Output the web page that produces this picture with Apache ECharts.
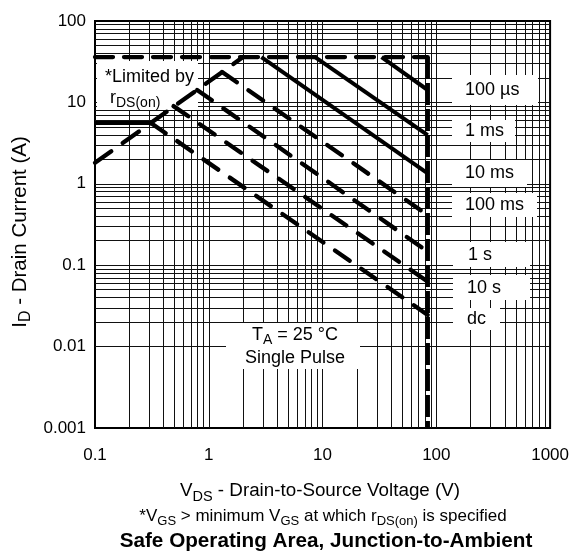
<!DOCTYPE html>
<html><head><meta charset="utf-8">
<script src="https://cdn.jsdelivr.net/npm/echarts@6/dist/echarts.min.js"></script>
<style>html,body{margin:0;padding:0;background:#fff}#c{width:572px;height:553px}</style>
</head><body><div id="c"></div>
<script>
const FONT = "'Liberation Sans', Arial, Helvetica, sans-serif";

// ---- axis ticks ----
const xTicks = [0.1, 1, 10, 100, 1000];
const xTickLabels = ['0.1', '1', '10', '100', '1000'];
const yTicks = [0.001, 0.01, 0.1, 1, 10, 100];
const yTickLabels = ['0.001', '0.01', '0.1', '1', '10', '100'];

// ---- SOA boundary data (V in volts, I in amps) ----
const rdsLimitV = [0.1, 2.0];   const rdsLimitI = [1.81, 36];
const idmLimitV = [0.1, 84];    const idmLimitI = [36, 36];
const bvdssV = [84, 84];        const bvdssI = [36, 0.001];
const idLimitV = [0.1, 0.31];   const idLimitI = [5.6, 5.6];
const us100V = [33, 84];        const us100I = [36, 14.2];
const ms1V = [8.6, 84];         const ms1I = [36, 3.96];
const ms10V = [2.9, 84];        const ms10I = [36, 1.34];
const ms100V = [1.31, 84];      const ms100I = [23.7, 0.413];
const s1V = [0.79, 84];         const s1I = [14.2, 0.147];
const s10V = [0.49, 84];        const s10I = [9.0, 0.063];
const dcV = [0.31, 84];         const dcI = [5.6, 0.0245];

const curveLabels = ['100 µs', '1 ms', '10 ms', '100 ms', '1 s', '10 s', 'dc'];

// ---- grid multiples ----
const gridMult = [2, 3, 4, 5, 6, 7, 8, 9, 10];
const xDecades = [0.1, 1, 10, 100];
const yDecades = [0.001, 0.01, 0.1, 1, 10];

const xGrid = [];
xDecades.forEach(d => gridMult.forEach(m => { const v = +(d * m).toPrecision(6); if (v < 1000) xGrid.push(v); }));
const yGrid = [];
yDecades.forEach(d => gridMult.forEach(m => { const v = +(d * m).toPrecision(6); if (v < 100) yGrid.push(v); }));

const chart = echarts.init(document.getElementById('c'), null, {renderer: 'canvas'});

function pts(V, I) { return V.map((v, i) => [v, I[i]]); }
function curve(name, V, I, ls) {
  return {type: 'line', name, data: pts(V, I), symbol: 'none', showSymbol: false, silent: true, z: 5,
    lineStyle: Object.assign({color: '#000'}, ls), animation: false};
}
const dashDesc = {width: 4.3, type: [18, 14], cap: 'round'};
const solidDesc = {width: 4, type: 'solid'};

// ---- text helpers ----
const mctx = document.createElement('canvas').getContext('2d');
function fontStr(size, bold) { return (bold ? 'bold ' : '') + size + 'px ' + FONT; }
function tw(t, size, bold) { mctx.font = fontStr(size, bold); return mctx.measureText(t).width; }
function runs(parts, x, y, align, z) {
  const total = parts.reduce((s, p) => s + tw(p[0], p[1], p[3]), 0);
  let cx = align === 'center' ? x - total / 2 : x;
  return parts.map(p => {
    const el = {type: 'text', x: cx, y: y + (p[2] || 0), z: z || 10, silent: true,
      style: {text: p[0], font: fontStr(p[1], p[3]), fill: '#000', textAlign: 'left', align: 'left',
        textVerticalAlign: 'middle', verticalAlign: 'middle'}};
    cx += tw(p[0], p[1], p[3]);
    return el;
  });
}

const graphics = [];
// label boxes at right
const boxes = [
  [452, 75, 538, 105, 465, 90],
  [452, 120, 515, 142, 465, 131],
  [452, 160, 527, 187, 465, 173],
  [452, 193, 537, 217, 465, 205],
  [453, 242, 530, 267, 468, 255],
  [453, 275, 530, 300, 467, 288],
  [453, 308, 500, 330, 467, 319]
];
boxes.forEach((b, i) => {
  graphics.push({type: 'rect', z: 3, silent: true, shape: {x: b[0], y: b[1], width: b[2] - b[0], height: b[3] - b[1]}, style: {fill: '#fff'}});
  graphics.push(...runs([[curveLabels[i], 18]], b[4], b[5], 'left', 6));
});
// "*Limited by rDS(on)" box
graphics.push({type: 'rect', z: 3, silent: true, shape: {x: 97, y: 61, width: 101, height: 49}, style: {fill: '#fff'}});
graphics.push(...runs([['*Limited by', 18]], 105, 77, 'left', 6));
graphics.push(...runs([['r', 18], ['DS(on)', 14, 5.5]], 110, 98, 'left', 6));
// TA box
graphics.push({type: 'rect', z: 3, silent: true, shape: {x: 226, y: 323, width: 134, height: 46}, style: {fill: '#fff'}});
graphics.push(...runs([['T', 18], ['A', 14, 5.5], [' = 25 °C', 18]], 295, 335, 'center', 6));
graphics.push(...runs([['Single Pulse', 18]], 295, 358, 'center', 6));
// axis titles
graphics.push(...runs([['V', 18.8], ['DS', 14.5, 5.5], [' - Drain-to-Source Voltage (V)', 18.8]], 320, 491, 'center', 6));
graphics.push(...runs([['*V', 17], ['GS', 13, 5], [' > minimum V', 17], ['GS', 13, 5], [' at which r', 17], ['DS(on)', 13, 5], [' is specified', 17]], 323, 516, 'center', 6));
graphics.push(...runs([['Safe Operating Area, Junction-to-Ambient', 20.7, 0, true]], 326, 541, 'center', 6));
graphics.push({type: 'group', x: 20, y: 232, rotation: Math.PI / 2, z: 6,
  children: runs([['I', 20.5], ['D', 16, 5.5], [' - Drain Current (A)', 20.5]], 0, 0, 'center', 6)});

function lookup(ticks, labels, v) {
  const i = ticks.findIndex(t => Math.abs(Math.log10(t) - Math.log10(v)) < 1e-6);
  return i >= 0 ? labels[i] : '';
}

const option = {
  animation: false,
  grid: {left: 95, right: 20, top: 21, bottom: 125, show: true, borderColor: '#000', borderWidth: 2, backgroundColor: 'transparent'},
  xAxis: {type: 'log', logBase: 10, min: 0.1, max: 1000,
    axisLine: {show: false}, axisTick: {show: false}, splitLine: {show: false},
    axisLabel: {color: '#000', fontSize: 17, fontFamily: FONT, margin: 19, formatter: v => lookup(xTicks, xTickLabels, v)}},
  yAxis: {type: 'log', logBase: 10, min: 0.001, max: 100,
    axisLine: {show: false}, axisTick: {show: false}, splitLine: {show: false},
    axisLabel: {color: '#000', fontSize: 17, fontFamily: FONT, margin: 9, formatter: v => lookup(yTicks, yTickLabels, v)}},
  series: [
    {type: 'line', name: 'grid', data: [], symbol: 'none', silent: true, z: 1,
      markLine: {silent: true, z: 1, symbol: ['none', 'none'], animation: false, label: {show: false},
        lineStyle: {color: '#111', width: 1, type: 'solid'},
        emphasis: {disabled: true},
        data: [...xGrid.map(v => ({xAxis: v})), ...yGrid.map(v => ({yAxis: v}))]}},
    curve('rdsLimit', rdsLimitV, rdsLimitI, {width: 4.3, type: [20, 14], cap: 'round'}),
    curve('idmLimit', idmLimitV, idmLimitI, {width: 4.3, type: [18, 11], cap: 'round'}),
    curve('bvdss', bvdssV, bvdssI, {width: 4.5, type: [22, 4], cap: 'butt'}),
    curve('idLimit', idLimitV, idLimitI, {width: 4, type: 'solid'}),
    curve('100us', us100V, us100I, solidDesc),
    curve('1ms', ms1V, ms1I, solidDesc),
    curve('10ms', ms10V, ms10I, solidDesc),
    curve('100ms', ms100V, ms100I, dashDesc),
    curve('1s', s1V, s1I, dashDesc),
    curve('10s', s10V, s10I, dashDesc),
    curve('dc', dcV, dcI, dashDesc)
  ],
  graphic: {elements: graphics}
};
chart.setOption(option);
</script>
</body></html>
